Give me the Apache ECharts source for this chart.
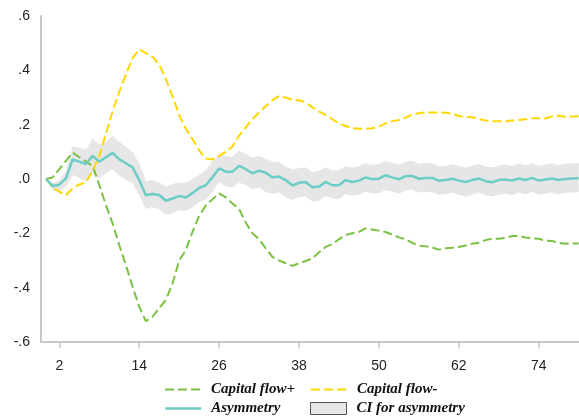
<!DOCTYPE html>
<html><head><meta charset="utf-8">
<script src="https://cdn.jsdelivr.net/npm/echarts@6/dist/echarts.min.js"></script>
<style>html,body{margin:0;padding:0;background:#fff}#c{width:579px;height:418px}</style>
</head><body><div id="c"></div>
<script>
const periods = [0,1,2,3,4,5,6,7,8,9,10,11,12,13,14,15,16,17,18,19,20,21,22,23,24,25,26,27,28,29,30,31,32,33,34,35,36,37,38,39,40,41,42,43,44,45,46,47,48,49,50,51,52,53,54,55,56,57,58,59,60,61,62,63,64,65,66,67,68,69,70,71,72,73,74,75,76,77,78,79,80];
const xTicks = [2,14,26,38,50,62,74];
const capitalFlowPlus = [0.000,0.006,0.036,0.067,0.097,0.080,0.064,0.048,-0.022,-0.096,-0.163,-0.243,-0.317,-0.396,-0.470,-0.523,-0.507,-0.475,-0.445,-0.385,-0.300,-0.262,-0.195,-0.135,-0.098,-0.075,-0.053,-0.068,-0.090,-0.110,-0.160,-0.200,-0.222,-0.255,-0.287,-0.300,-0.310,-0.320,-0.310,-0.302,-0.292,-0.270,-0.250,-0.240,-0.222,-0.206,-0.200,-0.195,-0.182,-0.186,-0.190,-0.195,-0.205,-0.215,-0.222,-0.235,-0.245,-0.248,-0.252,-0.260,-0.255,-0.253,-0.250,-0.245,-0.238,-0.235,-0.225,-0.220,-0.220,-0.217,-0.210,-0.210,-0.215,-0.218,-0.220,-0.227,-0.228,-0.235,-0.238,-0.237,-0.237];
const capitalFlowMinus = [0.000,-0.030,-0.047,-0.059,-0.035,-0.020,-0.012,0.030,0.085,0.165,0.250,0.320,0.385,0.445,0.477,0.463,0.450,0.422,0.368,0.305,0.235,0.185,0.147,0.105,0.075,0.072,0.085,0.100,0.120,0.160,0.190,0.220,0.245,0.268,0.290,0.305,0.300,0.292,0.290,0.282,0.264,0.248,0.236,0.220,0.205,0.195,0.187,0.185,0.185,0.187,0.193,0.205,0.213,0.217,0.225,0.238,0.242,0.245,0.245,0.245,0.244,0.241,0.232,0.228,0.227,0.222,0.215,0.213,0.213,0.213,0.215,0.217,0.220,0.224,0.224,0.223,0.230,0.233,0.229,0.230,0.231];
const asymmetry = [0.000,-0.026,-0.021,0.002,0.072,0.064,0.055,0.085,0.064,0.080,0.096,0.072,0.058,0.043,-0.004,-0.060,-0.055,-0.059,-0.080,-0.072,-0.062,-0.068,-0.052,-0.033,-0.023,0.006,0.039,0.027,0.027,0.048,0.036,0.021,0.031,0.023,0.006,0.009,-0.004,-0.024,-0.014,-0.011,-0.030,-0.028,-0.011,-0.023,-0.023,-0.004,-0.011,-0.006,0.006,-0.001,0.001,0.014,0.006,-0.001,0.011,0.011,0.001,0.004,0.004,-0.006,-0.004,0.001,-0.006,-0.011,-0.004,0.002,-0.008,-0.012,-0.004,-0.002,-0.006,0.002,-0.004,0.004,-0.006,-0.002,0.002,-0.004,0.000,0.002,0.003];
const ciUpper = [0.000,-0.014,-0.005,0.030,0.121,0.115,0.107,0.150,0.125,0.137,0.158,0.137,0.119,0.100,0.058,-0.008,-0.004,-0.012,-0.028,-0.018,-0.012,-0.015,0.000,0.015,0.033,0.064,0.092,0.085,0.082,0.105,0.092,0.078,0.085,0.075,0.064,0.063,0.045,0.036,0.040,0.043,0.025,0.030,0.042,0.032,0.032,0.048,0.042,0.047,0.058,0.052,0.055,0.067,0.060,0.053,0.064,0.066,0.056,0.058,0.058,0.047,0.049,0.054,0.048,0.042,0.050,0.056,0.046,0.042,0.050,0.053,0.048,0.057,0.051,0.059,0.048,0.053,0.058,0.051,0.056,0.058,0.059];
const ciLower = [0.000,-0.043,-0.045,-0.030,0.015,0.004,-0.008,0.021,0.002,0.021,0.036,0.012,-0.002,-0.016,-0.060,-0.110,-0.104,-0.112,-0.132,-0.126,-0.115,-0.118,-0.104,-0.085,-0.077,-0.047,-0.012,-0.028,-0.031,-0.014,-0.022,-0.038,-0.030,-0.048,-0.055,-0.050,-0.068,-0.077,-0.066,-0.064,-0.083,-0.080,-0.063,-0.073,-0.074,-0.055,-0.062,-0.058,-0.047,-0.053,-0.052,-0.040,-0.046,-0.054,-0.042,-0.040,-0.050,-0.048,-0.049,-0.058,-0.056,-0.051,-0.058,-0.064,-0.058,-0.050,-0.060,-0.064,-0.057,-0.054,-0.059,-0.050,-0.056,-0.048,-0.058,-0.055,-0.050,-0.056,-0.052,-0.050,-0.049];

const GREEN = '#7ac143', YELLOW = '#ffd700', TEAL = '#6ccdc6', BAND = '#e6e6e6', AXIS = '#c8c8c8';
const pairs = arr => periods.map((p, i) => [p, arr[i]]);
const fmtY = v => (Math.round(v * 10) / 10).toFixed(1).replace('0.', '.');
const legendText = { fontFamily: '"Liberation Serif","Times New Roman",serif', fontStyle: 'italic', fontWeight: 'bold', fontSize: 15, color: '#111', lineHeight: 14, padding: [0, 0, 0, 5] };
const mkLegend = (left, top, item) => ({ orient: 'horizontal', left: left, top: top, padding: 0, itemWidth: 36, itemHeight: 12, textStyle: legendText, selectedMode: false, data: [item] });

const chart = echarts.init(document.getElementById('c'), null, { renderer: 'canvas' });
chart.setOption({
  animation: false,
  backgroundColor: '#fff',
  grid: { left: 41, right: 0, top: 16, bottom: 76, containLabel: false, outerBoundsMode: 'none' },
  xAxis: {
    type: 'value', min: -0.75, max: 80.05,
    splitLine: { show: false },
    axisLine: { show: true, onZero: false, lineStyle: { color: AXIS, width: 2 } },
    axisTick: { show: true, customValues: xTicks, length: 6, lineStyle: { color: AXIS, width: 1.5 } },
    axisLabel: { customValues: xTicks, margin: 17, fontSize: 14, color: '#222', fontFamily: '"Liberation Sans",Arial,sans-serif' }
  },
  yAxis: {
    type: 'value', min: -0.6, max: 0.6, interval: 0.2,
    splitLine: { show: false },
    axisLine: { show: true, onZero: false, lineStyle: { color: AXIS, width: 2 } },
    axisTick: { show: false },
    axisLabel: { margin: 11, fontSize: 14, color: '#222', fontFamily: '"Liberation Sans",Arial,sans-serif', formatter: fmtY }
  },
  legend: [
    mkLegend(164, 382, { name: 'Capital flow+', itemStyle: { opacity: 0 }, lineStyle: { color: GREEN, type: [9, 4], width: 2 } }),
    mkLegend(164, 401, { name: 'Asymmetry', itemStyle: { opacity: 0 }, lineStyle: { color: TEAL, width: 2.5 } }),
    mkLegend(310, 382, { name: 'Capital flow-', itemStyle: { opacity: 0 }, lineStyle: { color: YELLOW, type: [9, 4], width: 2 } }),
    mkLegend(310, 401, { name: 'CI for asymmetry', icon: 'rect', itemStyle: { color: BAND, borderColor: '#555', borderWidth: 1 } })
  ],
  series: [
    { name: 'CI for asymmetry', type: 'custom', silent: true, z: 1,
      itemStyle: { color: BAND },
      data: periods.map((p, i) => [p, ciLower[i], ciUpper[i]]),
      encode: { x: 0, y: [1, 2] },
      renderItem: (params, api) => {
        if (params.dataIndex !== 0) return null;
        const pts = [];
        for (let i = 0; i < periods.length; i++) pts.push(api.coord([periods[i], ciUpper[i]]));
        for (let i = periods.length - 1; i >= 0; i--) pts.push(api.coord([periods[i], ciLower[i]]));
        return { type: 'polygon', shape: { points: pts }, style: { fill: BAND, stroke: null } };
      } },
    { name: 'Capital flow+', type: 'line', data: pairs(capitalFlowPlus), symbol: 'none', showSymbol: false, itemStyle: { color: GREEN }, lineStyle: { color: GREEN, width: 2, type: [9, 4] }, z: 3 },
    { name: 'Capital flow-', type: 'line', data: pairs(capitalFlowMinus), symbol: 'none', showSymbol: false, itemStyle: { color: YELLOW }, lineStyle: { color: YELLOW, width: 2, type: [9, 4] }, z: 3 },
    { name: 'Asymmetry', type: 'line', data: pairs(asymmetry), symbol: 'none', showSymbol: false, itemStyle: { color: TEAL }, lineStyle: { color: TEAL, width: 2.5 }, z: 4 }
  ]
});
</script></body></html>
